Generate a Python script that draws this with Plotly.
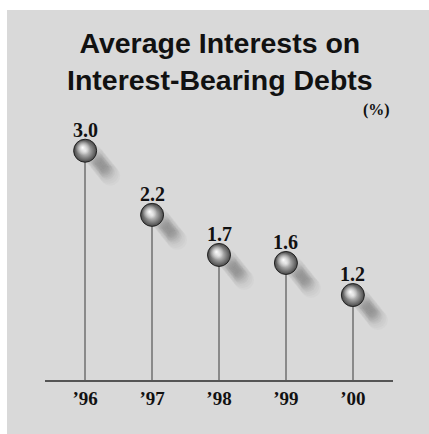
import plotly.graph_objects as go

years = ["’96", "’97", "’98", "’99", "’00"]
values = [3.0, 2.2, 1.7, 1.6, 1.2]
labels = ["3.0", "2.2", "1.7", "1.6", "1.2"]

W, H = 429, 434
ML, MR, MT, MB = 45, 36, 110, 54
PW, PH = W - ML - MR, H - MT - MB
XR = [-0.6, 4.6]
YR = [0.14, 3.508]
PX_X = PW / (XR[1] - XR[0])  # px per x unit
PX_Y = PH / (YR[1] - YR[0])  # px per y unit


def py(ypx):
    """pixel row -> paper y"""
    return (H - MB - ypx) / PH


def px(xpx):
    return (xpx - ML) / PW


xs = list(range(len(years)))

fig = go.Figure()

# stems
fig.add_trace(go.Bar(x=xs, y=values, width=2 / PX_X, marker=dict(color="#8a8a8a", line=dict(width=0)),
                     hoverinfo="skip", showlegend=False))

# shadows: stacked translucent blobs along a diagonal to the lower right
n = 12
for size, op, t0, t1 in [(20, 0.045, 0.0, 1.0), (14, 0.04, 0.15, 0.85), (9, 0.03, 0.25, 0.75)]:
    for k in range(n):
        t = t0 + (t1 - t0) * k / (n - 1)
        dxp = 8 + t * 17
        dyp = 4 + t * 21
        fig.add_trace(go.Scatter(
            x=[x + dxp / PX_X for x in xs],
            y=[v - dyp / PX_Y for v in values],
            mode="markers",
            marker=dict(size=size, color="#707070", opacity=op, line=dict(width=0)),
            hoverinfo="skip", showlegend=False))

# ball body
fig.add_trace(go.Scatter(
    x=xs, y=values, mode="markers",
    marker=dict(size=23, color="#484848",
                gradient=dict(type="radial", color="#e6e6e6"),
                line=dict(width=1, color="#222222")),
    hoverinfo="skip", showlegend=False))
# highlight
fig.add_trace(go.Scatter(
    x=[x - 2.5 / PX_X for x in xs], y=[v + 3 / PX_Y for v in values], mode="markers",
    marker=dict(size=15, color="rgba(230,230,230,0)",
                gradient=dict(type="radial", color="rgba(255,255,255,1)"),
                line=dict(width=0)),
    hoverinfo="skip", showlegend=False))

for x, v, lab in zip(xs, values, labels):
    fig.add_annotation(x=x, y=v, text=lab, showarrow=False, yanchor="middle", yshift=21,
                       font=dict(family="Liberation Serif", size=20, color="#111111", weight="bold"))

fig.add_annotation(x=px(392), y=1.0, xref="paper", yref="paper", text="(%)", showarrow=False,
                   xanchor="right", yanchor="middle",
                   font=dict(family="Liberation Serif", size=16, color="#111111", weight="bold"))

fig.add_annotation(x=px(220), y=py(25), xref="paper", yref="paper",
                   text="Average Interests on<br>Interest-Bearing Debts", showarrow=False,
                   xanchor="center", yanchor="top", align="center",
                   font=dict(family="Liberation Sans", size=28.5, color="#111111", weight="bold"))

# gray panel
fig.add_shape(type="rect", xref="paper", yref="paper", layer="below",
              x0=px(7), x1=px(W + 2), y0=py(H + 2), y1=py(10),
              fillcolor="#d9d9d9", line=dict(width=0))

fig.update_layout(
    width=W, height=H,
    margin=dict(l=ML, r=MR, t=MT, b=MB),
    paper_bgcolor="white", plot_bgcolor="rgba(0,0,0,0)",
    xaxis=dict(range=XR, tickvals=xs, ticktext=years, showgrid=False, zeroline=False,
               showline=True, linecolor="#555555", linewidth=2, ticks="",
               tickfont=dict(family="Liberation Serif", size=19, color="#111111", weight="bold"),
               fixedrange=True),
    yaxis=dict(range=YR, visible=False, showgrid=False, zeroline=False, fixedrange=True),
    showlegend=False, bargap=0,
)

fig.write_html("out.html", post_script="document.body.style.margin='0';",
               config={"displayModeBar": False})
